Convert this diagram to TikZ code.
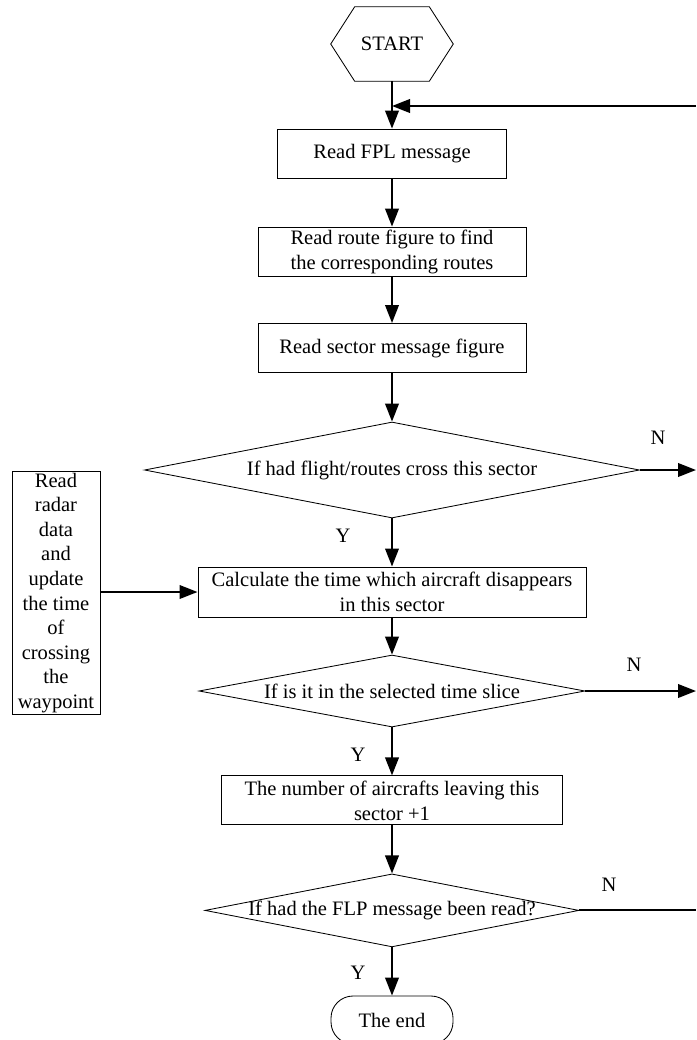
\documentclass[tikz,border=0pt]{standalone}
\usepackage{fontspec}
\setmainfont{Liberation Serif}
\usetikzlibrary{arrows.meta,shapes.geometric}

\begin{document}
\begin{tikzpicture}[>={Triangle[length=0.45cm,width=0.34cm]},
  font=\fontsize{14.6}{17.8}\selectfont,
  box/.style={draw, line width=0.7pt, minimum height=1.225cm, align=center, inner sep=0pt},
  decision/.style={draw, diamond, line width=0.6pt, inner sep=0pt},
  flow/.style={->, line width=1.4pt}]
\useasboundingbox (0,0) rectangle (17.4,-26);

% main column
\node[minimum width=3.05cm, minimum height=1.85cm] (start) at (9.8,-1.1) {START};
\draw[line width=0.6pt] (start.west) -- ([xshift=0.6cm]start.north west) -- ([xshift=-0.6cm]start.north east)
  -- (start.east) -- ([xshift=-0.6cm]start.south east) -- ([xshift=0.6cm]start.south west) -- cycle;

\node[box, minimum width=5.725cm] (fpl) at (9.8,-3.84) {Read FPL message};
\node[box, minimum width=6.7cm] (route) at (9.8,-6.29) {Read route figure to find\\the corresponding routes};
\node[box, minimum width=6.7cm] (sector) at (9.8,-8.7) {Read sector message figure};
\node[decision, minimum width=12.375cm, minimum height=2.4cm,
  label=center:{If had flight/routes cross this sector}] (cross) at (9.8,-11.75) {};
\node[box, minimum width=9.7cm, minimum height=1.25cm] (calc) at (9.8,-14.8) {Calculate the time which aircraft disappears\\in this sector};
\node[decision, minimum width=9.65cm, minimum height=1.8cm,
  label=center:{If is it in the selected time slice}] (slice) at (9.8,-17.275) {};
\node[box, minimum width=8.525cm] (count) at (9.8,-20.01) {The number of aircrafts leaving this\\sector +1};
\node[decision, minimum width=9.35cm, minimum height=1.825cm,
  label=center:{If had the FLP message been read?}] (done) at (9.8,-22.76) {};
\node[draw, rounded corners=0.55cm, line width=0.6pt, minimum width=3.05cm, minimum height=1.2cm] (stop) at (9.8,-25.5) {The end};

% side box
\node[box, minimum width=2.2cm, minimum height=6.075cm, font=\fontsize{14.6}{17.5}\selectfont] (radar) at (1.4,-14.82)
  {Read\\radar\\data\\and\\update\\the time\\of\\crossing\\the\\waypoint};

% branch labels
\node (y1) at (8.575,-13.4) {Y};
\node (y2) at (8.95,-18.875) {Y};
\node (y3) at (8.95,-24.325) {Y};
\node (n1) at (16.45,-10.95) {N};
\node (n2) at (15.85,-16.625) {N};
\node (n3) at (15.225,-22.125) {N};

% right edge
\coordinate (back) at (17.4,-2.65);
\coordinate (out1) at (17.4,-11.75);
\coordinate (out2) at (17.4,-17.275);
\coordinate (out3) at (17.4,-22.76);

\draw[flow] (start) -- (fpl);
\draw[flow] (fpl) -- (route);
\draw[flow] (route) -- (sector);
\draw[flow] (sector) -- (cross);
\draw[flow] (cross) -- (calc);
\draw[flow] (calc) -- (slice);
\draw[flow] (slice) -- (count);
\draw[flow] (count) -- (done);
\draw[flow] (done) -- (stop);

\draw[flow] (back) -- (back -| fpl.north);
\draw[flow] (cross.east) -- (out1);
\draw[flow] (slice.east) -- (out2);
\draw[line width=1.4pt] (done.east) -- (out3);
\draw[flow] (radar.east |- calc.west) -- (calc.west);
\end{tikzpicture}
\end{document}
